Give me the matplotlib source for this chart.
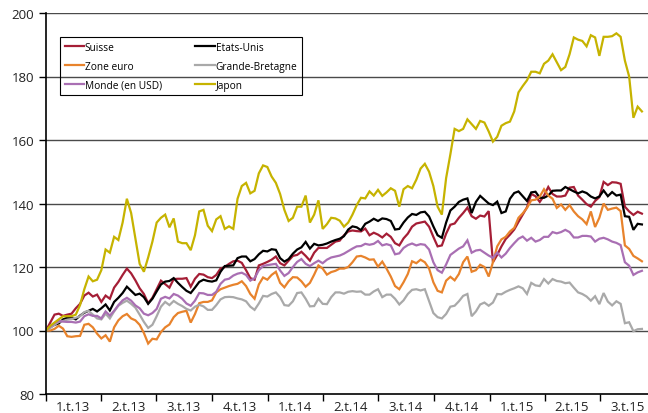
import numpy as np
import pandas as pd
import matplotlib
matplotlib.use('Agg')
import matplotlib.pyplot as plt
import matplotlib.dates as mdates

# weekly index values, base 100 = start of 2013
dates = pd.date_range('2013-01-01', periods=141, freq='7D')

suisse = [100, 102.5, 105, 105.3, 104.6, 105, 105.3, 107, 108.4, 111, 111.9, 110.7, 111.3,
          109, 111, 110, 113.5, 115.3, 117.5, 119.5, 118, 115.8, 113.3, 111.5, 108.6, 110.3,
          113, 115.7, 114.6, 113.5, 116.2, 116.3, 116.3, 116.5, 113.8, 116.3, 117.8, 117.6, 116.8,
          116.5, 117.5, 119.5, 120, 121, 121.8, 122, 121.3, 119, 116.5, 116, 120.5, 121,
          121.6, 122.3, 123.3, 121.2, 120.5, 122, 123.5, 123.8, 124.8, 123.5, 122, 124.5, 126,
          126, 126, 127, 128, 128.3, 130, 131.2, 131.5, 131.3, 131.2, 132.1, 130, 130.8,
          130.2, 129.3, 130.5, 129.5, 127.5, 126.8, 129, 130.5, 132.7, 133.7, 134, 134.3, 132.7,
          129.5, 126.5, 126.8, 130.5, 133.3, 133.7, 135.5, 137, 138.7, 136, 135.2, 136.2, 135.9,
          137.6, 121.5, 123.8, 126.5, 128.8, 130.2, 131.8, 134.2, 136.5, 138.8, 143, 142.3, 140.5,
          142.5, 145.2, 143, 142.2, 142.2, 142.5, 145, 145.2, 142.5, 141.2, 139.8, 139, 140.8,
          142, 146.8, 145.8, 146.7, 146.6, 146.2, 139, 137.5, 136.4, 137.4, 136.8]

etats_unis = [100, 101, 101.8, 102.2, 103.5, 104, 104, 103.5, 104.7, 105.6, 106.2, 106.8, 106,
              107, 108.2, 106.3, 109, 110.3, 111.8, 113.8, 112.5, 111.2, 111.6, 110.5, 108.4, 110,
              112.3, 114.5, 115.4, 115.6, 116.5, 115, 113.7, 112.5, 111.8, 113.5, 115.3, 116, 115.6,
              115.4, 115.8, 118.5, 120.3, 120.4, 120.5, 122.8, 123.3, 123.3, 121.8, 122.5, 124, 125.1,
              124.9, 125.6, 125.4, 122.8, 121.7, 122.5, 124.2, 125.5, 126.2, 127.9, 125.8, 127.3, 126.8,
              127, 127.4, 128, 128.5, 128.9, 129.7, 131.8, 132.8, 132.5, 131.6, 133.6, 134.3, 135.2,
              134.5, 135.3, 135.1, 134.5, 131.8, 132, 134, 135.6, 136.7, 136.4, 137.2, 137.4, 135.9,
              132.8, 130, 129.2, 134, 137.8, 139, 140.5, 141.2, 141.6, 137, 140.5, 142.4, 141.2,
              140, 139.5, 140.6, 137, 137.5, 141.5, 143.3, 143.8, 142.3, 140.8, 143.5, 143.7, 141.8,
              141.8, 142.5, 144, 144.1, 144.1, 145.2, 144.5, 143.8, 143.2, 143.8, 143.3, 142.2, 141.6,
              142.2, 144.1, 142.3, 143.6, 142.5, 142.8, 136, 135.8, 131.7, 133.6, 133.4]

zone_euro = [100, 100, 100.5, 101.5, 100.6, 98.2, 98, 98.2, 98.3, 101.8, 102.1, 101, 99,
             97.5, 98.5, 96.5, 101, 103.2, 104.5, 105.2, 103.8, 103.2, 101.8, 99.2, 95.9, 97.4,
             97.2, 99.5, 101, 101.9, 104.2, 105.5, 105.9, 106.2, 102.5, 105.2, 108.6, 109, 109,
             109.5, 112, 113, 113.5, 114, 114.4, 114.7, 115.5, 114, 111.5, 110, 114.5, 116.7,
             116, 117.5, 118.5, 115, 113.6, 115.5, 116.8, 116.7, 115.5, 113.8, 115, 117.6, 120.5,
             119.5, 117.6, 118.4, 118.8, 119.5, 119.5, 120, 121.5, 123.3, 123.5, 123, 122.3, 122.4,
             120.1, 121.7, 119.5, 117, 114, 113, 115.2, 117.8, 121.8, 121.2, 122.3, 121.5, 119.5,
             115.2, 112.5, 112, 115.7, 116.9, 115.8, 117.8, 121.5, 123.3, 118.5, 119, 120.7, 120,
             117, 121.5, 126.5, 128.7, 129.5, 131.2, 132.3, 135.5, 136.9, 138.6, 141, 141.2, 142.2,
             144.5, 142.5, 141.5, 138.6, 139.7, 138, 139.5, 137.5, 136, 135, 133.5, 137.5, 132.6,
             135.5, 140, 138, 138.4, 138.7, 137.6, 126.8, 125.7, 123.5, 122.7, 121.8]

grande_bretagne = [100, 100.8, 101.8, 102.7, 103, 103.4, 103.6, 104, 104.5, 105.8, 106.2, 105, 103.8,
                   103.5, 105.3, 103.8, 106, 107.8, 108.7, 109.4, 108.4, 107.2, 105, 102.7, 100.8, 101.8,
                   104.5, 107.5, 109, 108, 109.3, 108.4, 107.7, 106.8, 106.3, 107.5, 108.1, 107.6, 106.5,
                   106.5, 108, 109.8, 110.5, 110.6, 110.5, 110.1, 109.8, 109.2, 107.5, 106.5, 108.5, 110.9,
                   110.7, 111.5, 112, 110.5, 108, 107.8, 109.2, 111.8, 112, 110, 107.6, 107.7, 110,
                   108.4, 108.3, 110.5, 112, 112, 111.6, 112.2, 112.4, 112.2, 112.3, 111.3, 111.3, 112.3,
                   113, 110.5, 111.3, 111.3, 110, 108.2, 109.5, 111.5, 112.8, 113, 112.6, 113, 109.3,
                   105.5, 104.2, 103.8, 105.2, 107.5, 107.8, 109.2, 110.9, 111.5, 104.5, 106, 108.2, 108.8,
                   107.8, 108.8, 111.5, 111.4, 112.2, 112.8, 113.3, 113.9, 113.3, 111.5, 115, 114.2, 114,
                   116.2, 114.8, 116.2, 115.6, 115.4, 114.9, 115.1, 113.5, 112, 111.5, 110.7, 109.4, 110.8,
                   108.3, 111.8, 109.1, 107.9, 109.2, 108.4, 102.3, 102.6, 99.8, 100.4, 100.5]

monde = [100, 101.2, 102.3, 103, 102.8, 102.7, 102.7, 102.5, 102.8, 104.5, 105.1, 104.6, 104.6,
         103.8, 106, 104.7, 106.2, 108, 109.5, 110.3, 109.4, 107.9, 107, 105.3, 104.8, 105.5,
         106.8, 110, 110.6, 110.1, 111.5, 111, 110, 108.5, 107.8, 109.4, 111.8, 111.7, 111.2,
         111.2, 112.2, 114.7, 116, 116.3, 117.3, 117.9, 118.2, 117.5, 115.7, 116.5, 119, 120.3,
         120.6, 120.8, 121, 118.9, 117.2, 118.1, 120, 121.6, 122.5, 121, 120.3, 121.2, 122,
         121.2, 122.3, 123, 123.3, 123.6, 124.2, 125, 125.8, 126.5, 126.6, 127.3, 127, 127.3,
         128.2, 126.8, 127.2, 126.8, 124, 124.3, 126, 126.9, 127.4, 126.8, 127.2, 127, 125.5,
         121.5, 119, 118.2, 120.8, 123.8, 124.8, 125.8, 126.5, 128.4, 124.5, 125.2, 125.4, 124.5,
         123.6, 122.9, 124.5, 123, 124.2, 126, 127.5, 128.9, 129.6, 128.3, 129.2, 128, 128.5,
         129.5, 129.5, 131, 130.6, 131, 131.7, 131, 129.3, 129.3, 129.8, 129.8, 129.6, 128,
         128.9, 129.2, 128.7, 128, 127.6, 126.9, 121.5, 120.4, 117.5, 118.3, 118.8]

japon = [100, 101.5, 102.5, 103.5, 104.5, 104.5, 104.5, 105, 108, 113, 117, 115.5, 116,
         119, 125.5, 124.5, 129.5, 128.5, 134, 141.5, 137, 129, 121, 118.5, 123, 128,
         134, 135.5, 136.5, 132.5, 135.3, 128, 127.5, 127.5, 125.3, 130, 137.5, 138, 133,
         131.3, 135, 136, 132, 132.8, 132, 141.5, 145.5, 146.5, 143.2, 144, 149.5, 152,
         151.5, 148.5, 146.5, 143, 138, 134.5, 135.5, 139, 139, 142.5, 134, 136.5, 141,
         132, 133.5, 135.5, 135.3, 134.6, 132.7, 134, 136.5, 139.5, 141.8, 141.6, 143.8, 142.5,
         144.3, 142.4, 143.5, 144.8, 144, 139, 144.5, 145.5, 144.8, 147.5, 151, 152.5, 150,
         145.5, 139, 136.5, 148, 155.5, 163.5, 162.8, 163.5, 166.5, 165, 163.5, 166, 165.5,
         162.7, 159.5, 161, 164.5, 165.3, 165.8, 169, 175, 177, 178.8, 181.5, 181.5, 181,
         184, 185, 187, 184.5, 182, 183, 187, 192.3, 191.6, 191.2, 189.5, 193, 192.3,
         186.5, 192.5, 192.5, 192.7, 193.6, 192.5, 185, 180, 167, 170.5, 169]

quarter_labels = ['1.t.13', '2.t.13', '3.t.13', '4.t.13', '1.t.14', '2.t.14',
                  '3.t.14', '4.t.14', '1.t.15', '2.t.15', '3.t.15']

series = [
    ('Suisse', suisse, '#A51E36'),
    ('Etats-Unis', etats_unis, '#000000'),
    ('Zone euro', zone_euro, '#E8832C'),
    ('Grande-Bretagne', grande_bretagne, '#A9A9A9'),
    ('Monde (en USD)', monde, '#A96FB3'),
    ('Japon', japon, '#C6B300'),
]

plt.rcParams['font.family'] = ['Open Sans', 'DejaVu Sans']

fig = plt.figure(figsize=(6.48, 4.14), dpi=100)
ax = fig.add_axes([46 / 648, 19 / 414, 602 / 648, 381 / 414])

lines = {}
for name, vals, col in series:
    ln, = ax.plot(dates, vals, color=col, lw=1.6, label=name, solid_joinstyle='miter')
    lines[name] = ln

ax.set_ylim(80, 200)
ax.set_yticks(range(80, 201, 20))
ax.set_xlim(pd.Timestamp('2013-01-01'), pd.Timestamp('2015-09-18'))

for v in range(100, 201, 20):
    ax.axhline(v, color='#4a4a4a', lw=1.0, zorder=0)

q_starts = pd.date_range('2013-01-01', periods=11, freq='QS')
ax.set_xticks(q_starts)
ax.set_xticklabels([])
ax.set_xticks(q_starts + pd.Timedelta(days=45), minor=True)
ax.set_xticklabels(quarter_labels, minor=True)
ax.tick_params(axis='x', which='major', length=5, width=1, direction='out')
ax.tick_params(axis='x', which='minor', length=0, pad=4, labelsize=9.5, colors='#222222')
ax.tick_params(axis='y', length=5, width=1, direction='out', labelsize=9.5, colors='#222222')
ax.tick_params(axis='both', which='both', color='black')

for s in ['top', 'right']:
    ax.spines[s].set_visible(False)
ax.spines['left'].set_linewidth(1.2)
ax.spines['bottom'].set_linewidth(1.2)

order = ['Suisse', 'Zone euro', 'Monde (en USD)', 'Etats-Unis', 'Grande-Bretagne', 'Japon']
leg = ax.legend([lines[n] for n in order], order, ncol=2, loc='upper left',
                bbox_to_anchor=(9 / 602, 1 - 19 / 381), fontsize=7.3,
                handlelength=1.9, handletextpad=0.1, columnspacing=3.3,
                labelspacing=0.8, borderpad=0.45, fancybox=False)
frame = leg.get_frame()
frame.set_facecolor('none')
frame.set_edgecolor('black')
frame.set_alpha(None)
frame.set_linewidth(0.8)

fig.savefig('out.png', dpi=100)
